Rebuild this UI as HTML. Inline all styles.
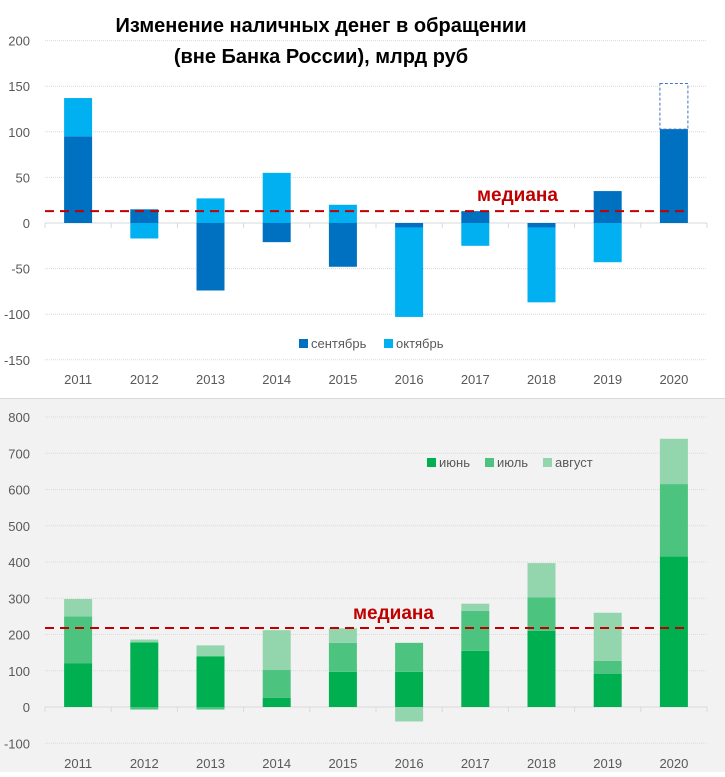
<!DOCTYPE html>
<html><head><meta charset="utf-8"><style>
body{margin:0;background:#fff;font-family:"Liberation Sans","DejaVu Sans",sans-serif}
svg text{font-family:"Liberation Sans","DejaVu Sans",sans-serif}
</style></head><body>
<svg id="c" width="725" height="772" xmlns="http://www.w3.org/2000/svg">
<rect x="0" y="0" width="725" height="399" fill="#fff"/>
<rect x="0" y="399" width="725" height="373" fill="#f2f2f2"/>
<line x1="0" y1="398.5" x2="725" y2="398.5" stroke="#d9d9d9"/>
<text x="321" y="32" text-anchor="middle" font-size="20" font-weight="bold" fill="#000">Изменение наличных денег в обращении</text>
<text x="321" y="63" text-anchor="middle" font-size="20" font-weight="bold" fill="#000">(вне Банка России), млрд руб</text>
<g id="top"></g><g id="bot"></g>
</svg>
<script>
const years=["2011","2012","2013","2014","2015","2016","2017","2018","2019","2020"];
const sep=[95,15,-74,-21,-48,-5,13,-5,35,103];
const oct=[42,-17,27,55,20,-98,-25,-82,-43,50];
const topTicks=[200,150,100,50,0,-50,-100,-150];
const topMedian=13;
const jun=[120,178,140,25,97,97,155,210,92,415];
const jul=[130,-7,-7,77,80,80,110,92,35,200];
const aug=[48,8,30,110,40,-40,20,95,133,125];
const botTicks=[800,700,600,500,400,300,200,100,0,-100];
const botMedian=218;

const NS="http://www.w3.org/2000/svg";
function mk(p,t,a){const e=document.createElementNS(NS,t);for(const k in a)e.setAttribute(k,a[k]);p.appendChild(e);return e;}
const x0=45,cw=66.2,bw=28;
const xc=i=>x0+cw*(i+0.5);
function chart(g,yf,ticks,series,colors,median,medLbl,xLabY,xLabPrefix,dashedLast){
  ticks.forEach(t=>{
    const y=yf(t);
    if(t!==0){const l=mk(g,'line',{x1:x0,x2:707,y1:y,y2:y,stroke:'#d9d9d9','stroke-dasharray':'1,1'});
    
    }
    const tx=mk(g,'text',{x:30,y:y+5,'text-anchor':'end','font-size':13,fill:'#595959'});tx.textContent=t;
    
    
  });
  const ax=mk(g,'line',{x1:x0,x2:707,y1:yf(0),y2:yf(0),stroke:'#d9d9d9'});
  
  
  for(let i=0;i<=10;i++){const tk=mk(g,'line',{x1:x0+cw*i,x2:x0+cw*i,y1:yf(0),y2:yf(0)+5,stroke:'#d9d9d9'});
    
    }
  years.forEach((yr,i)=>{
    let pos=0,neg=0;
    series.forEach((s,k)=>{
      const v=s.data[i];let a,b;
      if(v>=0){a=pos;b=pos+v;pos=b;}else{a=neg;b=neg+v;neg=b;}
      const y1=yf(Math.max(a,b)),y2=yf(Math.min(a,b));
      const last=dashedLast&&k===series.length-1&&i===years.length-1;
      const r=mk(g,'rect',{x:xc(i)-bw/2,y:y1,width:bw,height:Math.max(0.5,y2-y1),
        fill:last?'#fff':colors[k],stroke:last?'#4472c4':'none','stroke-dasharray':last?'3,2':'none'});
      
      
    });
    const lt=mk(g,'text',{x:xc(i),y:xLabY,'text-anchor':'middle','font-size':13,fill:'#595959'});lt.textContent=yr;
    
    
  });
  const ml=mk(g,'line',{x1:x0,x2:690,y1:yf(median),y2:yf(median),stroke:'#c00000','stroke-width':2,'stroke-dasharray':'9,6'});
  
  
  const mt=mk(g,'text',{x:medLbl[0],y:medLbl[1],'font-size':19,'font-weight':'bold',fill:'#c00000'});mt.textContent='медиана';
  
  
}
const yT=v=>223-v*0.912;
chart(document.getElementById('top'),yT,topTicks,[{name:'sep',data:sep},{name:'oct',data:oct}],['#0070c0','#00b0f0'],topMedian,[477,201],384,'',true);
const yB=v=>707-v*0.3625;
chart(document.getElementById('bot'),yB,botTicks,[{name:'jun',data:jun},{name:'jul',data:jul},{name:'aug',data:aug}],['#00b050','#4cc47f','#93d6ae'],botMedian,[353,619],768,'',false);
// legends
const tg=document.getElementById('top'),bg=document.getElementById('bot');
function leg(g,x,y,col,label,name){
  const r=mk(g,'rect',{x:x,y:y-9,width:9,height:9,fill:col});
  
  
  const t=mk(g,'text',{x:x+12,y:y,'font-size':13,fill:'#595959'});t.textContent=label;
  
  
}
leg(tg,299,348,'#0070c0','сентябрь','sep');
leg(tg,384,348,'#00b0f0','октябрь','oct');
leg(bg,427,467,'#00b050','июнь','jun');
leg(bg,485,467,'#4cc47f','июль','jul');
leg(bg,543,467,'#93d6ae','август','aug');
</script>
</body></html>
